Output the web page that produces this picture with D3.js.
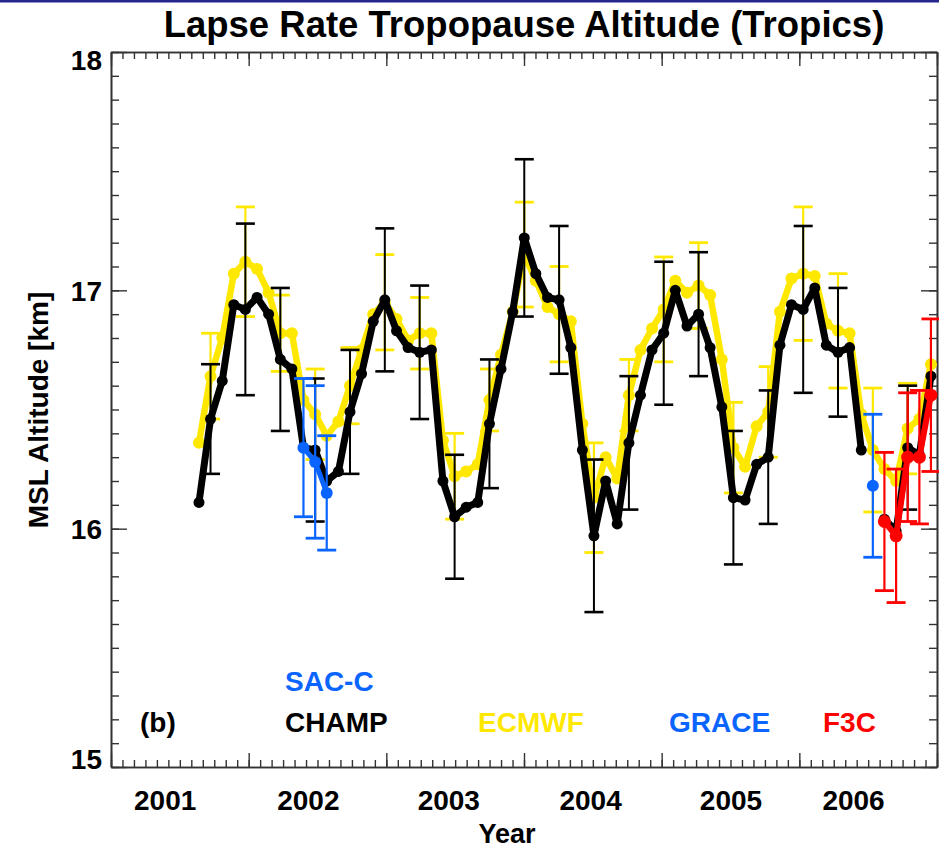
<!DOCTYPE html>
<html>
<head>
<meta charset="utf-8">
<script src="https://cdn.jsdelivr.net/npm/d3@7"></script>
<style>
  html, body { margin: 0; padding: 0; background: #fff; }
  svg { display: block; font-family: "Liberation Sans", Arial, Helvetica, sans-serif; font-weight: bold; }
</style>
</head>
<body>
<svg id="chart" width="939" height="850"></svg>
<script>
// Monthly sample times (decimal years)
const times = [
  2001.639, 2001.723, 2001.808, 2001.892, 2001.976, 2002.061, 2002.145, 2002.230, 2002.314, 2002.398,
  2002.483, 2002.567, 2002.652, 2002.736, 2002.820, 2002.905, 2002.989, 2003.074, 2003.158, 2003.242,
  2003.327, 2003.411, 2003.496, 2003.580, 2003.664, 2003.749, 2003.833, 2003.918, 2004.002, 2004.086,
  2004.171, 2004.255, 2004.340, 2004.424, 2004.508, 2004.593, 2004.677, 2004.762, 2004.846, 2004.930,
  2005.015, 2005.099, 2005.184, 2005.268, 2005.352, 2005.437, 2005.521, 2005.606, 2005.690, 2005.774,
  2005.859, 2005.943, 2006.028, 2006.112, 2006.196, 2006.281, 2006.365, 2006.450, 2006.534, 2006.618,
  2006.703, 2006.787, 2006.872, 2006.956
];

// CHAMP tropopause altitude (km) and 1-sigma spread
const champAlt = [
  16.11, 16.46, 16.62, 16.94, 16.92, 16.97, 16.90, 16.71, 16.67, 16.34,
  16.33, 16.20, 16.24, 16.49, 16.65, 16.87, 16.96, 16.83, 16.76, 16.74,
  16.75, 16.20, 16.05, 16.09, 16.11, 16.44, 16.67, 16.91, 17.22, 17.07,
  16.97, 16.96, 16.76, 16.33, 15.97, 16.20, 16.02, 16.36, 16.56, 16.75,
  16.82, 17.00, 16.85, 16.90, 16.76, 16.51, 16.13, 16.12, 16.27, 16.30,
  16.77, 16.94, 16.92, 17.01, 16.77, 16.74, 16.76, 16.33, null, 16.04,
  15.99, 16.34, 16.31, 16.64
];
const champErr = [
  null, 0.23, null, null, 0.36, null, null, 0.30, null, null,
  0.30, null, null, 0.26, null, null, 0.30, null, null, 0.28,
  null, null, 0.26, null, null, 0.27, null, null, 0.33, null,
  null, 0.31, null, null, 0.32, null, null, 0.28, null, null,
  0.30, null, null, 0.26, null, null, 0.28, null, null, 0.28,
  null, null, 0.35, null, null, 0.27, null, null, null, null,
  null, 0.26, null, null
];

// ECMWF analysis
const ecmwfAlt = [
  16.36, 16.64, 16.80, 17.07, 17.12, 17.09, 16.99, 16.82, 16.82, 16.54,
  16.48, 16.39, 16.45, 16.60, 16.75, 16.90, 16.95, 16.88, 16.79, 16.82,
  16.82, 16.37, 16.22, 16.24, 16.27, 16.54, 16.73, 16.91, 17.15, 17.04,
  16.93, 16.90, 16.87, 16.44, 16.13, 16.30, 16.21, 16.56, 16.75, 16.84,
  16.92, 17.04, 16.99, 17.02, 16.98, 16.71, 16.34, 16.26, 16.43, 16.49,
  16.91, 17.05, 17.07, 17.06, 16.86, 16.83, 16.82, 16.48, 16.33, 16.25,
  16.20, 16.42, 16.46, 16.69
];
const ecmwfErr = [
  null, 0.18, null, null, 0.23, null, null, 0.16, null, null,
  0.19, null, null, 0.16, null, null, 0.20, null, null, 0.15,
  null, null, 0.18, null, null, 0.13, null, null, 0.22, null,
  null, 0.20, null, null, 0.23, null, null, 0.15, null, null,
  0.22, null, null, 0.18, null, null, 0.19, null, null, 0.19,
  null, null, 0.28, null, null, 0.24, null, null, 0.26, null,
  null, 0.19, null, null
];

// SAC-C
const saccTimes = [2002.398, 2002.483, 2002.567];
const saccAlt = [16.34, 16.28, 16.15];
const saccErr = [0.29, 0.32, 0.24];

// GRACE
const graceTimes = [2006.534];
const graceAlt = [16.18];
const graceErr = [0.30];

// FORMOSAT-3/COSMIC
const f3cTimes = [2006.618, 2006.703, 2006.787, 2006.872, 2006.956];
const f3cAlt = [16.03, 15.97, 16.30, 16.30, 16.56];
const f3cErr = [0.29, 0.28, 0.27, 0.28, 0.32];

// Axis labelling
const yearLabels = ["2001", "2002", "2003", "2004", "2005", "2006"];
const yearLabelPos = [2001.39, 2002.43, 2003.45, 2004.48, 2005.50, 2006.39];
const altLabels = ["15", "16", "17", "18"];

const legendItems = [
  { text: "SAC-C", color: "#0a64ff", x: 285, row: 0 },
  { text: "(b)",   color: "#000000", x: 140, row: 1 },
  { text: "CHAMP", color: "#000000", x: 285, row: 1 },
  { text: "ECMWF", color: "#ffe800", x: 478, row: 1 },
  { text: "GRACE", color: "#0a64ff", x: 669, row: 1 },
  { text: "F3C",   color: "#ff0000", x: 823, row: 1 }
];

const COL = { yellow: "#ffe800", black: "#000000", blue: "#0a64ff", red: "#ff0000" };

const svg = d3.select("#chart");
const pLeft = 111, pRight = 937, pTop = 52, pBottom = 767;

const x = d3.scaleLinear().domain([2001, 2007]).range([pLeft, pRight]);
const y = d3.scaleLinear().domain([15, 18]).range([pBottom, pTop]);

// thin navy rule along the top edge
svg.append("rect").attr("x", 0).attr("y", 0).attr("width", 939).attr("height", 2.5).attr("fill", "#25258c");

// Title
svg.append("text")
  .attr("x", 524).attr("y", 37)
  .attr("text-anchor", "middle")
  .attr("font-size", 36.5)
  .attr("fill", "#000")
  .text("Lapse Rate Tropopause Altitude (Tropics)");

// Axes: monthly minor ticks, yearly major ticks, on all four sides
const monthTicks = d3.range(0, 73).map(i => 2001 + i / 12);
const yearTicks = d3.range(2001, 2008);
const altMinor = d3.range(0, 31).map(i => 15 + i / 10);
const altMajor = [15, 16, 17, 18];

const axisColor = "#333";
function styleAxis(g) {
  g.select(".domain").attr("stroke", axisColor).attr("stroke-width", 1.6);
  g.selectAll(".tick line").attr("stroke", axisColor).attr("stroke-width", 1.4);
  g.selectAll(".tick text").remove();
}

svg.append("g").attr("transform", `translate(0,${pBottom})`)
  .call(d3.axisTop(x).tickValues(monthTicks).tickSize(7).tickSizeOuter(0)).call(styleAxis);
svg.append("g").attr("transform", `translate(0,${pBottom})`)
  .call(d3.axisTop(x).tickValues(yearTicks).tickSize(14).tickSizeOuter(0)).call(styleAxis);
svg.append("g").attr("transform", `translate(0,${pTop})`)
  .call(d3.axisBottom(x).tickValues(monthTicks).tickSize(7).tickSizeOuter(0)).call(styleAxis);
svg.append("g").attr("transform", `translate(0,${pTop})`)
  .call(d3.axisBottom(x).tickValues(yearTicks).tickSize(14).tickSizeOuter(0)).call(styleAxis);
svg.append("g").attr("transform", `translate(${pLeft},0)`)
  .call(d3.axisRight(y).tickValues(altMinor).tickSize(8).tickSizeOuter(0)).call(styleAxis);
svg.append("g").attr("transform", `translate(${pLeft},0)`)
  .call(d3.axisRight(y).tickValues(altMajor).tickSize(16).tickSizeOuter(0)).call(styleAxis);
svg.append("g").attr("transform", `translate(${pRight},0)`)
  .call(d3.axisLeft(y).tickValues(altMinor).tickSize(8).tickSizeOuter(0)).call(styleAxis);
svg.append("g").attr("transform", `translate(${pRight},0)`)
  .call(d3.axisLeft(y).tickValues(altMajor).tickSize(16).tickSizeOuter(0)).call(styleAxis);

// Tick labels
svg.append("g").attr("transform", `translate(0,${pBottom})`)
  .call(d3.axisBottom(x).tickValues(yearLabelPos).tickSize(0).tickPadding(0)
    .tickFormat((d, i) => yearLabels[i]))
  .call(g => g.select(".domain").remove())
  .call(g => g.selectAll(".tick text")
    .attr("font-size", 28).attr("font-family", null).attr("fill", "#000")
    .attr("dy", null).attr("y", 43));

// end labels are nudged inside the frame
svg.append("g").attr("transform", `translate(${pLeft},0)`)
  .call(d3.axisLeft(y).tickValues(altMajor).tickSize(0).tickPadding(9)
    .tickFormat((d, i) => altLabels[i]))
  .call(g => g.select(".domain").remove())
  .call(g => g.selectAll(".tick text")
    .attr("font-size", 28).attr("font-family", null).attr("fill", "#000")
    .attr("dy", d => d === 18 ? "0.61em" : d === 15 ? "0.07em" : "0.36em"));

// Axis titles
svg.append("text").attr("x", 507).attr("y", 843).attr("text-anchor", "middle")
  .attr("font-size", 27).attr("fill", "#000").text("Year");
svg.append("text").attr("transform", `translate(48,410) rotate(-90)`)
  .attr("text-anchor", "middle").attr("font-size", 28).attr("fill", "#000")
  .text("MSL Altitude [km]");

// Series
function pack(ts, vs, es) {
  return ts.map((t, i) => ({ t, v: vs[i], e: es ? es[i] : null }));
}

function drawSeries(data, color, o) {
  const g = svg.append("g");
  const withErr = data.filter(d => d.v != null && d.e != null);
  g.selectAll(null).data(withErr).join("line")
    .attr("x1", d => x(d.t)).attr("x2", d => x(d.t))
    .attr("y1", d => y(d.v - d.e)).attr("y2", d => y(d.v + d.e))
    .attr("stroke", color).attr("stroke-width", o.ew);
  [1, -1].forEach(s => {
    g.selectAll(null).data(withErr).join("line")
      .attr("x1", d => x(d.t) - o.cap).attr("x2", d => x(d.t) + o.cap)
      .attr("y1", d => y(d.v + s * d.e)).attr("y2", d => y(d.v + s * d.e))
      .attr("stroke", color).attr("stroke-width", o.ew + 0.6);
  });
  const line = d3.line().defined(d => d.v != null).x(d => x(d.t)).y(d => y(d.v));
  g.append("path").datum(data).attr("d", line)
    .attr("fill", "none").attr("stroke", color).attr("stroke-width", o.lw)
    .attr("stroke-linejoin", "round").attr("stroke-linecap", "round");
  g.selectAll(null).data(data.filter(d => d.v != null)).join("circle")
    .attr("cx", d => x(d.t)).attr("cy", d => y(d.v)).attr("r", o.r).attr("fill", color);
}

drawSeries(pack(times, ecmwfAlt, ecmwfErr), COL.yellow, { lw: 6.5, r: 6, ew: 2.2, cap: 9.5 });
drawSeries(pack(times, champAlt, champErr), COL.black, { lw: 7, r: 5.5, ew: 2, cap: 9.5 });
drawSeries(pack(saccTimes, saccAlt, saccErr), COL.blue, { lw: 5, r: 6, ew: 2.2, cap: 9.5 });
drawSeries(pack(graceTimes, graceAlt, graceErr), COL.blue, { lw: 5, r: 6, ew: 2.2, cap: 9.5 });
drawSeries(pack(f3cTimes, f3cAlt, f3cErr), COL.red, { lw: 6, r: 6.5, ew: 2.2, cap: 9.5 });

// Legend
svg.append("g").selectAll("text").data(legendItems).join("text")
  .attr("x", d => d.x).attr("y", d => d.row === 0 ? 691 : 732)
  .attr("font-size", 28).attr("fill", d => d.color)
  .text(d => d.text);
</script>
</body>
</html>
